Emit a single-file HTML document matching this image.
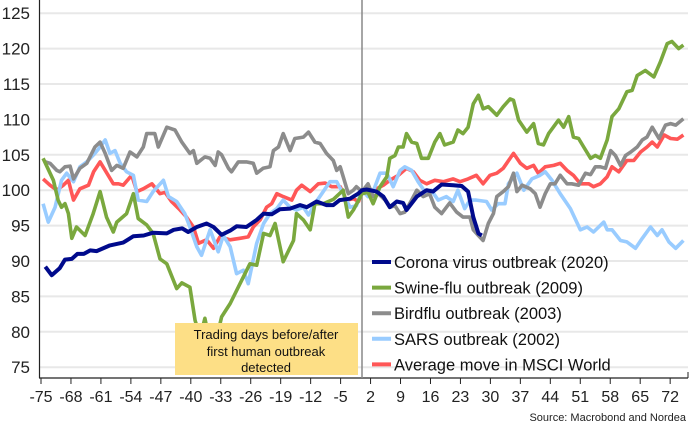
<!DOCTYPE html>
<html><head><meta charset="utf-8"><style>
html,body{margin:0;padding:0;background:#fff;}
svg{display:block;font-family:"Liberation Sans",sans-serif;}
</style></head><body>
<svg id="chart" width="691" height="427" viewBox="0 0 691 427" xmlns="http://www.w3.org/2000/svg">
<g id="grid"></g>
<g id="yaxis"></g>
<g id="xaxis"></g>
<g id="series"></g>
<g>
<rect x="175" y="323" width="183" height="52" fill="#fddf86"/>
<text x="266" y="339" text-anchor="middle" font-size="13" fill="#111">Trading days before/after</text>
<text x="266" y="356" text-anchor="middle" font-size="13" fill="#111">first human outbreak</text>
<text x="266" y="372" text-anchor="middle" font-size="13" fill="#111">detected</text>
</g>
<g id="legend"></g>
<text x="686" y="421" text-anchor="end" font-size="11" fill="#222">Source: Macrobond and Nordea</text>
</svg>
<script>
const yTicks=[75,80,85,90,95,100,105,110,115,120,125];
const xTicks=[-75,-68,-61,-54,-47,-40,-33,-26,-19,-12,-5,2,9,16,23,30,37,44,51,58,65,72];
const seriesNames=["Corona virus outbreak (2020)","Swine-flu outbreak (2009)","Birdflu outbreak (2003)","SARS outbreak (2002)","Average move in MSCI World"];
const coronaDays=[-74,-72.5,-70.6,-69.4,-67.8,-66.5,-65,-63.5,-62,-58.9,-55.8,-53.4,-51,-48.8,-45.6,-44,-42,-40.6,-38.6,-36.3,-34.7,-32.8,-30.8,-29.3,-27,-24.6,-23,-21.1,-19.2,-16.8,-14.5,-12.9,-10.6,-8.3,-6.7,-5.2,-2.8,-0.9,0,1.1,3.4,5,6.5,8.1,9.6,10.4,12.8,15.1,16.6,18.6,21.3,23.3,24.8,26,27.2,28];
const coronaVals=[89.2,88,89,90.2,90.3,91,91,91.5,91.4,92.2,92.6,93.5,93.6,94,93.9,94.4,94.6,94.1,94.8,95.3,94.8,93.7,94.3,94.9,94.8,95.8,96.7,96.6,97.3,97.4,97.9,97.6,98.4,97.9,97.9,98.6,98.8,99.5,100,100.1,99.8,99.1,97.6,98.4,98.2,97.2,99.1,100,99.8,100.8,100.7,100.6,99.8,96.2,93.9,93.6];
const swineDays=[-74.5,-72.1,-71,-70.2,-69.4,-68.6,-67.8,-66.7,-64.7,-62.8,-61.2,-59.7,-58.1,-57.3,-55,-53.4,-52.3,-50.3,-48.8,-47.2,-45.6,-43.3,-42.1,-40.2,-39,-37.8,-36.7,-35.5,-34,-32.8,-30.8,-28.5,-26.2,-24.6,-23,-21.5,-20.3,-18.4,-16,-15.3,-13.7,-12.1,-11,-9,-6.7,-4.4,-3.2,-2,0,1.4,2.6,4.2,5.8,6.5,7.7,8.5,9.6,10.4,11.6,12.8,13.9,15.5,17,18.2,19.3,21.3,22.4,23.6,24.8,26,27.2,28.3,29.5,31.5,33,34.6,35.4,36.6,38.5,40.1,41.2,42.4,43.6,45.9,47.1,48.3,49.4,50.6,51.8,53.4,54.5,55.7,57.3,58.4,60,61.9,63.1,64.3,66.2,68.2,69.7,71.3,72.4,74,75.1];
const swineVals=[104.5,101.4,98.6,97.6,98.1,96.7,93.2,94.8,93.6,96.7,99.8,96.2,94.1,95.5,96.7,99.5,96,95.1,93.9,90.3,89.6,86.1,86.9,86.3,81.6,79.3,81.9,78.3,79,82.1,84,86.8,89.6,89.4,93.9,93.6,95.3,89.9,92.9,96.7,95.8,94.4,98.1,98.1,98.7,100,96.2,97.2,99.5,99.7,98.1,100.5,101.9,104.5,104.9,106.1,106.1,108,106.8,106.6,104.5,104.5,106.8,108,106.4,106.8,108.5,108,108.9,112.2,113.4,111.5,111.8,110.6,111.8,112.9,112.7,109.9,108.2,109.4,106.6,106.4,108,109.9,108.9,110.4,107.5,107.3,106.1,104.5,104.9,104.5,107.1,110.4,111.5,113.9,114.1,116.2,116.9,116,118.1,120.7,121,120,120.5];
const birdDays=[-74,-72.9,-71.3,-70.6,-69.4,-68.2,-67.4,-65.9,-64.3,-62.4,-61.2,-60,-58.5,-57.3,-55.8,-54.2,-52.6,-51.1,-50.3,-48.4,-47.6,-45.6,-43.7,-42.1,-40.2,-39.4,-38.6,-36.7,-35.5,-34.3,-33.6,-32.8,-31.2,-30.5,-28.9,-27,-25.4,-24.6,-23.1,-21.5,-20.7,-19.5,-18.4,-16.8,-15.7,-13.7,-12.5,-11,-9.8,-8.3,-6.7,-5.9,-5.1,-4.4,-3.2,-2,-1.3,0,1.4,2.6,3.8,5.4,6.5,7.7,8.9,10,11.6,12.8,14.3,15.8,17,18.6,20.5,22.1,23.6,25.2,26,27.2,28.3,29.5,30.7,31.5,33,34.2,35.4,36.2,37.4,39.3,40.5,41.6,42.8,44,45.1,46.3,47.9,49,50.6,52.2,53.4,54.5,55.7,56.9,58.1,59.2,60.4,61.6,62.8,64.3,65.5,66.6,67.8,69.4,70.9,72.1,73.3,75.1];
const birdVals=[104,103.8,102.8,102.6,103.3,103.4,101.6,103.1,103.8,106.1,106.8,105.2,102.8,103.5,103.1,105.4,104.7,106.1,108,108,106.1,108.9,108.5,106.8,105.2,105.6,103.8,104.7,104.5,103.5,105.4,105,103.1,102.6,104,104,103.8,102.4,103.1,103.3,105.6,106.1,108,105.6,107.3,107.5,108.2,106.8,106.6,105.2,104.2,102.8,103.3,101.9,99.5,100,100.5,99.8,100.9,99.1,99.5,98.6,97.6,97.8,96.7,96.9,98.6,100,99.1,99.5,97.6,96.7,98.2,96.9,96.2,96.2,94.4,93.6,92.9,95.3,96.7,99.1,99.8,100.5,102.4,99.8,100.7,100.2,99.5,97.6,99.5,100.9,100.9,102.1,100.9,100.9,100.7,102.4,102.2,103.3,103.3,103.1,105.6,104.9,103.5,104.9,105.4,106.1,107.1,107.5,108.9,107.3,109.2,109.4,109.2,110.1];
const sarsDays=[-74.5,-73.3,-71.7,-70.2,-69,-67.4,-65.9,-64.3,-62.4,-61.2,-60,-58.9,-57.7,-56.5,-55,-53.4,-52.3,-50.3,-48.8,-46.4,-45.2,-43.3,-41.4,-40.2,-38.6,-37.5,-35.5,-33.6,-32.4,-30.8,-29.3,-27.7,-26.6,-24.6,-23,-21.5,-19.9,-18.4,-16.8,-15.3,-13.7,-12.5,-11,-9.4,-7.5,-5.9,-4.4,-2.8,-1.3,0,1.4,2.6,4.2,5.8,7.3,8.9,10,11.6,13.1,14.7,16.2,17.8,19.7,21.3,22.4,24,25.2,26.7,29.1,30.3,31.8,33.4,34.2,36.2,37.8,39.7,41.6,42.8,44.4,46.3,48.7,51,52.6,54.1,56.5,57.3,58.4,60.4,61.9,63.9,65.5,67.4,69,70.1,71.7,73.3,75.1];
const sarsVals=[98.1,95.5,97.6,101.4,102.4,101.2,103.3,104,105.2,106.1,107.1,105.2,105.6,103.8,102.6,102.1,98.6,98.4,99.8,101.4,99.1,98.4,96.7,94.8,92,90.8,94.4,91.3,93.6,92,88.2,88.7,86.8,92.5,95.3,96.7,97.4,98.6,97.6,97.2,97.6,96.5,98.1,99.5,101.2,101.2,99.5,97.6,97.8,100,99.1,99.8,102.4,102.4,100.5,102.8,103.3,102.8,101.2,99.8,100,98.6,99.1,98.4,100,97.4,98.6,98.6,98.4,97.2,98.1,98.1,100.9,102.4,100,101.6,102.1,102.6,101.4,99.5,97.4,94.4,94.8,94.1,95.5,94.4,94.4,92.9,92.7,91.8,93.2,94.8,93.6,94.4,92.7,91.8,92.9];
const avgDays=[-74.5,-72.9,-71.3,-69.8,-68.6,-67.4,-65.9,-63.9,-62.7,-61.2,-59.6,-58.1,-56.9,-55.8,-53.8,-52.6,-51.1,-49.1,-47.2,-46,-44.5,-42.5,-41,-39.4,-38.2,-36.3,-34.7,-33.2,-30.8,-28.5,-26.6,-25.4,-23.8,-22.3,-21.1,-19.9,-18.4,-16.4,-15.3,-14.1,-12.1,-10.2,-8.6,-7.1,-5.1,-3.6,-2,-0.8,0,1.4,3.4,5,6.5,8.5,10.4,12,13.5,15.1,17,19,21.3,22.9,24.8,26.7,28.3,29.9,31.5,33,35.4,37,38.5,40.1,41.2,42.8,44.8,46.3,47.9,49.4,51,53,54.1,55.7,57.3,58.4,60,61.9,63.5,65.1,66.6,67.8,69,70.6,72.1,73.7,75.1];
const avgVals=[101.6,100.7,100,100.7,101.4,98.6,100.2,100.7,102.6,104,102.4,100.9,100.9,100.7,102.1,99.8,100.2,100.9,99.5,99.7,98.4,97.2,96.2,94.8,92.5,93,91.8,93.4,93,93.2,93.4,94.8,95.8,97.6,98.1,99.5,99.1,98.6,100,100.7,99.8,100.9,101,100.5,100.5,98.6,98.8,98.4,99.8,99.8,100.2,100.7,101.4,102.1,103.1,102.6,101.4,100.9,101.4,101.2,101.6,101.2,101.6,102.1,100.9,102.1,102.4,103.1,105.2,103.8,103.1,103.5,102.4,103.3,103.5,103.8,102.8,102.1,100.9,100.9,100.5,100.9,101.9,103.3,102.6,104.2,104.2,105.4,106.1,106.8,106.1,107.8,107.3,107.2,107.8];

const NS="http://www.w3.org/2000/svg";
const X0=41, XPD=4.28, Y100=190.2, YPU=7.08;
function xs(d){return X0+(d+75)*XPD;}
function ys(v){return Y100-(v-100)*YPU;}
function mk(tag,attrs,parent){const e=document.createElementNS(NS,tag);for(const k in attrs)e.setAttribute(k,attrs[k]);parent.appendChild(e);return e;}
const grid=document.getElementById('grid'),yax=document.getElementById('yaxis'),xax=document.getElementById('xaxis'),ser=document.getElementById('series'),leg=document.getElementById('legend');
yTicks.forEach(t=>{
  const l=mk('line',{x1:39,x2:688,y1:ys(t),y2:ys(t),stroke:'#e8e8e8','stroke-width':2},grid);
  
  
  const tx=mk('text',{x:30,y:ys(t)+6,'text-anchor':'end','font-size':17,fill:'#222'},yax);
  tx.textContent=t;
  
  
});
mk('line',{x1:39.5,x2:39.5,y1:0,y2:378,stroke:'#222','stroke-width':1.2},yax);
mk('line',{x1:39,x2:688,y1:378,y2:378,stroke:'#222','stroke-width':1.2},xax);
mk('line',{x1:688,x2:688,y1:372,y2:378,stroke:'#222','stroke-width':1},xax);
const zl=mk('line',{x1:xs(0),x2:xs(0),y1:0,y2:378,stroke:'#888','stroke-width':1.5},xax);


xTicks.forEach(t=>{
  mk('line',{x1:xs(t),x2:xs(t),y1:378,y2:384,stroke:'#222','stroke-width':1},xax);
  const tx=mk('text',{x:xs(t),y:402,'text-anchor':'middle','font-size':16,fill:'#222'},xax);
  tx.textContent=String(t).replace('-','\u2212').replace('\u2212','-');
  
  
});
const defs=[
 {name:'average-msci-line',d:avgDays,v:avgVals,c:'#ff5757',w:3.6},
 {name:'sars-line',d:sarsDays,v:sarsVals,c:'#99ccff',w:3.6},
 {name:'birdflu-line',d:birdDays,v:birdVals,c:'#8c8c8c',w:3.6},
 {name:'swine-flu-line',d:swineDays,v:swineVals,c:'#7aa83e',w:3.6},
 {name:'corona-line',d:coronaDays,v:coronaVals,c:'#000a8c',w:4}
];
defs.forEach(s=>{
  const pts=s.d.map((d,i)=>xs(d).toFixed(1)+','+ys(s.v[i]).toFixed(1)).join(' ');
  const p=mk('polyline',{points:pts,fill:'none',stroke:s.c,'stroke-width':s.w,'stroke-linejoin':'round'},ser);
  
  
});
const legColors=['#000a8c','#7aa83e','#8c8c8c','#99ccff','#ff5757'];
seriesNames.forEach((n,i)=>{
  const y=262+i*25.6;
  const g=mk('g',{},leg);
  
  
  mk('line',{x1:372,x2:391,y1:y,y2:y,stroke:legColors[i],'stroke-width':4},g);
  const t=mk('text',{x:394,y:y+6,'font-size':16.5,fill:'#111'},g);
  t.textContent=n;
});
</script>
</body></html>
